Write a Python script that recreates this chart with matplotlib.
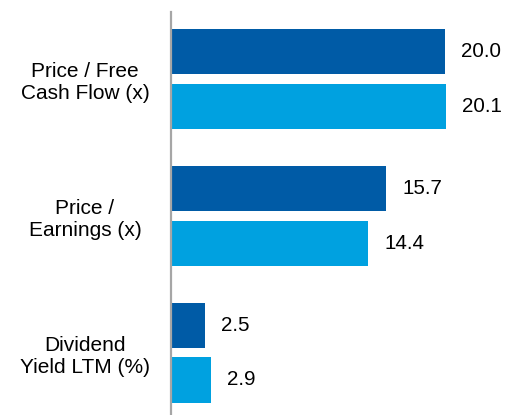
import matplotlib
matplotlib.use("Agg")
import matplotlib.pyplot as plt
import numpy as np

categories = ["Price / Free\nCash Flow (x)", "Price /\nEarnings (x)", "Dividend\nYield LTM (%)"]
series_a = [20.0, 15.7, 2.5]
series_b = [20.1, 14.4, 2.9]
labels_a = ["20.0", "15.7", "2.5"]
labels_b = ["20.1", "14.4", "2.9"]

dark = "#005BA6"
light = "#00A1E0"

plt.rcParams['font.family'] = ['Liberation Sans', 'DejaVu Sans']

fig = plt.figure(figsize=(5.06, 4.15), dpi=100)
ax = fig.add_axes([171 / 506, 0, (506 - 171) / 506, (415 - 12) / 415])

y = np.arange(len(categories))
h = 0.33
off = 0.2
bars_a = ax.barh(y - off, series_a, height=h, color=dark)
bars_b = ax.barh(y + off, series_b, height=h, color=light)

# value labels to the right of each bar
for bars, labs in ((bars_a, labels_a), (bars_b, labels_b)):
    for b, lab in zip(bars, labs):
        ax.annotate(lab, (b.get_width(), b.get_y() + b.get_height() / 2),
                    xytext=(11.5, 0), textcoords="offset points",
                    va="center", ha="left", fontsize=14.8)

ax.set_xlim(0, 335 / 13.7)
ax.set_ylim(2.456, -0.49)
ax.set_yticks(y)
ax.set_yticklabels(categories, fontsize=15, ha="center", linespacing=1.22)
ax.tick_params(axis="y", length=0, pad=62)
ax.set_xticks([])
for s in ["top", "right", "bottom"]:
    ax.spines[s].set_visible(False)
ax.spines["left"].set_color("#A6A6A6")
ax.spines["left"].set_linewidth(1.6)

fig.savefig("out.png", dpi=100)
